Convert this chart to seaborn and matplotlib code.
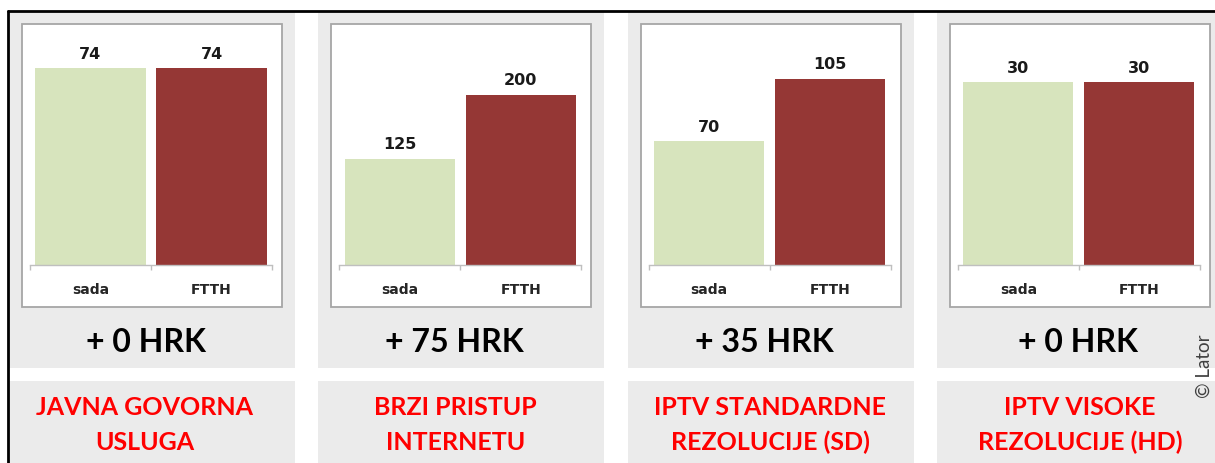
import matplotlib
matplotlib.use("Agg")
import matplotlib.pyplot as plt
from matplotlib.patches import Rectangle
from matplotlib.lines import Line2D
import seaborn as sns

# values
categories = ["sada", "FTTH"]
sada = [74, 125, 70, 30]
ftth = [74, 200, 105, 30]
y_max = [80, 250, 120, 35]
titles = [["JAVNA GOVORNA", "USLUGA"],
          ["BRZI PRISTUP", "INTERNETU"],
          ["IPTV STANDARDNE", "REZOLUCIJE (SD)"],
          ["IPTV VISOKE", "REZOLUCIJE (HD)"]]

W, H = 1215, 463
GREEN = "#D7E4BD"
RED = "#953735"
GREY = "#EBEBEB"
hrk_dx = [136.5, 136, 136.5, 141]
title_dx = [136, 137, 142.5, 143]

sns.set_theme(style="white")
plt.rcParams['font.family'] = ['DejaVu Sans']

fig = plt.figure(figsize=(W / 100, H / 100), dpi=100)


def box(x, y, w, h):
    # pixel box (from top-left) to figure fractions
    return [x / W, 1 - (y + h) / H, w / W, h / H]


def rect(x, y, w, h, **kw):
    l, b, ww, hh = box(x, y, w, h)
    fig.add_artist(Rectangle((l, b), ww, hh, transform=fig.transFigure, **kw))


def text(x, y, s, **kw):
    fig.text(x / W, 1 - y / H, s, **kw)


for i in range(4):
    x0 = 9 + i * 309.3
    rect(x0, 12, 286, 356, facecolor=GREY, edgecolor="none", zorder=-3)
    rect(x0, 381, 286, 90, facecolor=GREY, edgecolor="none", zorder=-3)
    rect(x0 + 13, 24, 260, 283, facecolor="white", edgecolor="#A6A6A6", lw=1.3, zorder=-2)

    ax = fig.add_axes(box(x0 + 21, 52, 242, 213))
    ax.set_facecolor("none")
    sns.barplot(x=categories, y=[sada[i], ftth[i]], hue=categories, palette=[GREEN, RED],
                saturation=1, width=0.91, linewidth=0, legend=False, ax=ax)
    ax.set_xlim(-0.5, 1.5)
    ax.set_ylim(0, y_max[i])
    ax.set_yticks([])
    ax.set_ylabel("")
    for side in ["left", "top", "right"]:
        ax.spines[side].set_visible(False)
    ax.spines["bottom"].set_color("#BFBFBF")
    ax.spines["bottom"].set_linewidth(1)
    ax.set_xticks([-0.5, 0.5, 1.5], minor=True)
    ax.tick_params(axis="x", which="minor", bottom=True, length=3.6, width=1, color="#BFBFBF", direction="out")
    ax.tick_params(axis="x", which="major", length=0, pad=13, labelsize=10, labelcolor="#262626")
    for lab in ax.get_xticklabels():
        lab.set_fontweight("bold")
    for c in ax.containers:
        ax.bar_label(c, fontsize=11.5, fontweight="bold", padding=4.5, color="#1A1A1A")

    text(x0 + hrk_dx[i], 352, f"+ {ftth[i] - sada[i]} HRK", ha="center", va="baseline",
         fontsize=23, fontweight="bold", family="Lato", color="black")
    for j, line in enumerate(titles[i]):
        text(x0 + title_dx[i], 415 + 35 * j, line, ha="center", va="baseline",
             fontsize=18, fontweight="bold", family="Lato", color="#FF0000")

text(1204, 366, "© Lator", rotation=90, ha="center", va="center", fontsize=13.5,
     family="Lato", color="#404040")

# outer frame of the slide
fig.add_artist(Line2D([8 / W, 1], [1 - 11 / H, 1 - 11 / H], color="black", lw=2, transform=fig.transFigure))
fig.add_artist(Line2D([8 / W, 8 / W], [1 - 11 / H, 0], color="black", lw=2, transform=fig.transFigure))

fig.savefig("out.png", dpi=100)
